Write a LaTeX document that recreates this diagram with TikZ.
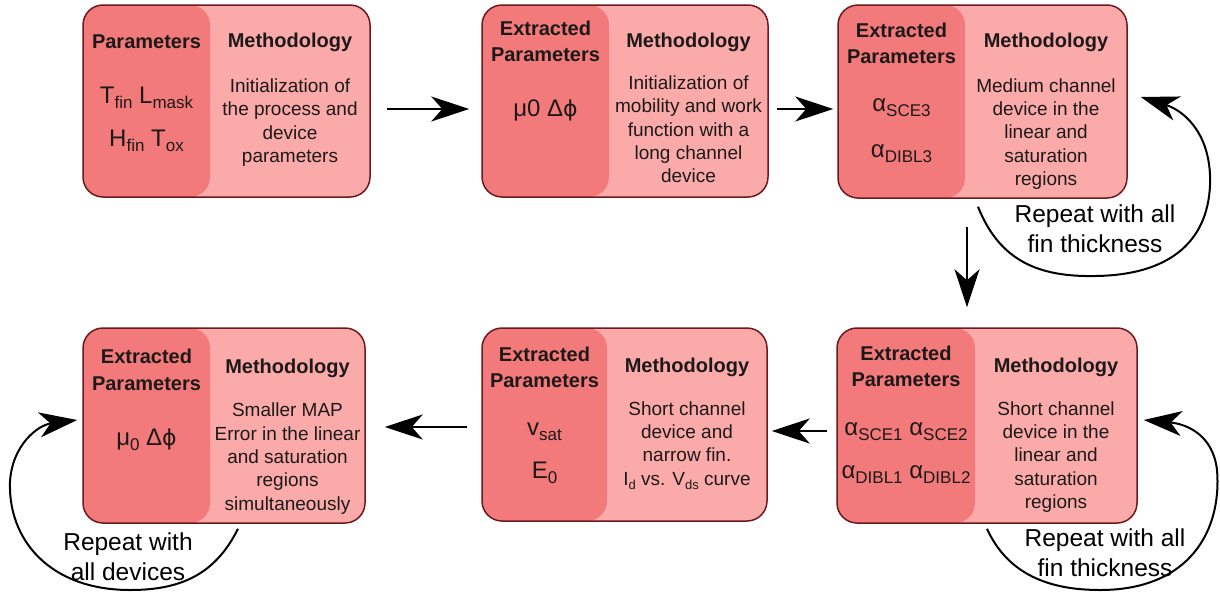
\documentclass[tikz,border=0pt]{standalone}
\usepackage{fontspec}
\setmainfont{Liberation Sans}
\newfontfamily\symfont{DejaVu Sans}
\usetikzlibrary{arrows.meta,calc}

\definecolor{bord}{RGB}{110,25,30}
\definecolor{pdark}{RGB}{243,122,122}
\definecolor{plight}{RGB}{251,170,170}
\definecolor{ink}{RGB}{30,25,25}

% subscripts for parameter symbols and for body text
\newcommand\lo[1]{\raisebox{-5pt}{\fontsize{17}{17}\selectfont #1}}
\newcommand\los[1]{\raisebox{-4pt}{\fontsize{13}{13}\selectfont #1}}
% straight-stroke phi
\newcommand\sphi{{\symfont\fontsize{22}{26}\selectfont ϕ}}

\tikzset{
  stagebox/.style={draw=bord, line width=1.5pt, rounded corners=20pt, fill=plight,
    inner sep=0pt,
    path picture={\fill[pdark] (path picture bounding box.north west)
      rectangle ([xshift=#1]path picture bounding box.south west);}},
  hdr/.style={font=\bfseries\fontsize{20}{26.5}\selectfont, text=ink, align=center, inner sep=0pt},
  body/.style={font=\fontsize{19}{23.3}\selectfont, text=ink, align=center, inner sep=0pt},
  par/.style={font=\fontsize{24}{28}\selectfont, text=ink, align=center, inner sep=0pt},
  note/.style={font=\fontsize{24.5}{30}\selectfont, text=black, align=center, inner sep=0pt},
  arr/.style={line width=2pt, -{Stealth[length=38pt, width=25pt, inset=11pt]}},
}

\begin{document}
\begin{tikzpicture}[x=1pt, y=-1pt]
\useasboundingbox (0,0) rectangle (1220,595);

% ---- stage boxes ----
\node[stagebox=127pt, minimum width=287pt, minimum height=192pt] (b1) at (226.5,101) {};
\node[stagebox=127pt, minimum width=286pt, minimum height=192pt] (b2) at (625,101) {};
\node[stagebox=127pt, minimum width=289pt, minimum height=193pt] (b3) at (982.5,101.5) {};
\node[stagebox=138pt, minimum width=300pt, minimum height=195pt] (b4) at (987,425.5) {};
\node[stagebox=125pt, minimum width=285pt, minimum height=193pt] (b5) at (624.5,424.5) {};
\node[stagebox=127pt, minimum width=282pt, minimum height=195pt] (b6) at (224,425.5) {};

% ---- stage 1 ----
\node[hdr] (b1h) at (146.5,42) {Parameters};
\node[hdr] (b1m) at (290,42) {Methodology};
\node[par] (b1p1) at (146.5,98) {T\lo{fin} L\lo{mask}};
\node[par] (b1p2) at (146.5,141) {H\lo{fin} T\lo{ox}};
\node[body] (b1t) at (290,122.5) {Initialization of\\the process and\\device\\parameters};

% ---- stage 2 ----
\node[hdr] (b2h) at (545.5,41.5) {Extracted\\Parameters};
\node[hdr] (b2m) at (688.5,42) {Methodology};
\node[par] (b2p) at (545.5,110) {μ0 Δ\sphi};
\node[body] (b2t) at (688.5,129.5) {Initialization of\\mobility and work\\function with a\\long channel\\device};

% ---- stage 3 ----
\node[hdr] (b3h) at (901.5,43.5) {Extracted\\Parameters};
\node[hdr] (b3m) at (1046,42) {Methodology};
\node[par] (b3p1) at (901.5,108) {α\lo{SCE3}};
\node[par] (b3p2) at (901.5,154) {α\lo{DIBL3}};
\node[body] (b3t) at (1046,134) {Medium channel\\device in the\\linear and\\saturation\\regions};

% ---- stage 4 ----
\node[hdr] (b4h) at (906,366.5) {Extracted\\Parameters};
\node[hdr] (b4m) at (1056,367) {Methodology};
\node[par] (b4p1) at (906,432) {α\lo{SCE1} α\lo{SCE2}};
\node[par] (b4p2) at (906,475) {α\lo{DIBL1} α\lo{DIBL2}};
\node[body] (b4t) at (1056,457) {Short channel\\device in the\\linear and\\saturation\\regions};

% ---- stage 5 ----
\node[hdr] (b5h) at (544.5,367.5) {Extracted\\Parameters};
\node[hdr] (b5m) at (687,367) {Methodology};
\node[par] (b5p1) at (544.5,432) {v\lo{sat}};
\node[par] (b5p2) at (544.5,473) {E\lo{0}};
\node[body] (b5t) at (687,445.5) {Short channel\\device and\\narrow fin.\\I\los{d} vs. V\los{ds} curve};

% ---- stage 6 ----
\node[hdr] (b6h) at (146.5,370) {Extracted\\Parameters};
\node[hdr] (b6m) at (287.5,368) {Methodology};
\node[par] (b6p) at (146.5,440) {μ\lo{0} Δ\sphi};
\node[body] (b6t) at (287.5,458.5) {Smaller MAP\\Error in the linear\\and saturation\\regions\\simultaneously};

% ---- flow between stages ----
\draw[arr] ($(b1.east)+(16,8)$) -- ($(b2.west)+(-12,8)$);
\draw[arr] ($(b2.east)+(8,8)$) -- ($(b3.west)+(-4,7.5)$);
\draw[arr] ($(b3.south)+(-15.5,28)$) -- ($(b4.north)+(-20,-20)$);
\draw[arr] ($(b4.west)+(-9,5.5)$) -- ($(b5.east)+(4,6.5)$);
\draw[arr] ($(b5.west)+(-14,2.5)$) -- ($(b6.east)+(19,1.5)$);

% ---- repeat loops ----
\coordinate (l3s) at ($(b3.south)+(-4.5,8)$);
\coordinate (l3e) at ($(b3.east)+(13,-4.5)$);
\draw[arr] (l3s) .. controls (1000,262) and (1040,277) .. (1095,276)
  .. controls (1180,275) and (1212,232) .. (1210,175)
  .. controls (1208,130) and (1182,110) .. (l3e);
\node[note] (n3) at (1095,229) {Repeat with all\\fin thickness};

\coordinate (l4s) at ($(b4.south)+(0,5)$);
\coordinate (l4e) at ($(b4.east)+(6,-5.5)$);
\draw[arr] (l4s) .. controls (1008,575) and (1050,590) .. (1100,590)
  .. controls (1190,590) and (1222,530) .. (1217,470)
  .. controls (1213,435) and (1187,424) .. (l4e);
\node[note] (n4) at (1105,553) {Repeat with all\\fin thickness};

\coordinate (l6s) at ($(b6.south)+(14,5)$);
\coordinate (l6e) at ($(b6.west)+(-5,-5.5)$);
\draw[arr] (l6s) .. controls (215,575) and (180,590) .. (130,590)
  .. controls (50,590) and (8,540) .. (10,482)
  .. controls (12,445) and (38,425) .. (l6e);
\node[note] (n6) at (128,557) {Repeat with\\all devices};

\end{tikzpicture}
\end{document}
